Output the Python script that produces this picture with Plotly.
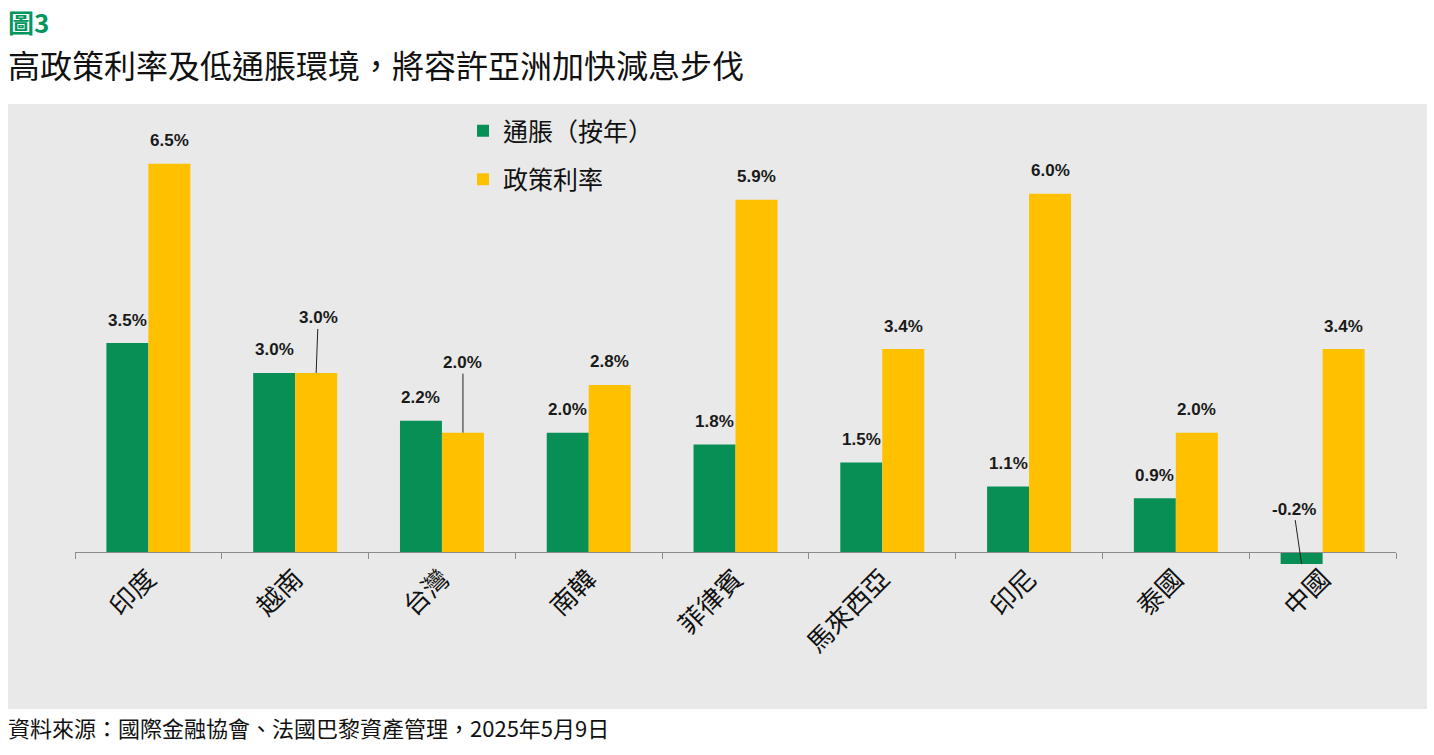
import plotly.graph_objects as go

categories = ["印度", "越南", "台灣", "南韓", "菲律賓", "馬來西亞", "印尼", "泰國", "中國"]
inflation = [3.5, 3.0, 2.2, 2.0, 1.8, 1.5, 1.1, 0.9, -0.2]
policy_rate = [6.5, 3.0, 2.0, 2.8, 5.9, 3.4, 6.0, 2.0, 3.4]
series_names = ["通脹（按年）", "政策利率"]

GREEN = "#078f56"
YELLOW = "#ffc000"
BG = "#e9e9e9"
CJK = "Noto Sans CJK TC"
LAT = "Liberation Sans, Arial"

W, H = 1434, 755
ML, MR, MT, MB = 75, 38, 134, 173
PW, PH = W - ML - MR, H - MT - MB


def px2x(px):
    return (px - ML) / PW


def py2y(py):
    return (H - MB - py) / PH


fig = go.Figure()
fig.add_trace(go.Bar(x=categories, y=inflation, name=series_names[0], marker_color=GREEN,
                     marker_line_width=0, legendgroup="a"))
fig.add_trace(go.Bar(x=categories, y=policy_rate, name=series_names[1], marker_color=YELLOW,
                     marker_line_width=0, legendgroup="b"))

annotations = []
label_font = dict(family=LAT, size=17, color="#1a1a1a")
# leader-line labels: (series index, category index) -> (ax, ay)
special = {(1, 1): (2, -55), (1, 2): (0, -70), (0, 8): (-8, -55)}
for si, vals in enumerate([inflation, policy_rate]):
    shift = -21 if si == 0 else 21
    for ci, v in enumerate(vals):
        txt = f"<b>{v:.1f}%</b>"
        if (si, ci) in special:
            ax, ay = special[(si, ci)]
            annotations.append(dict(x=categories[ci], y=v, xref="x", yref="y", xshift=shift,
                                    text=txt, showarrow=True, arrowhead=0, arrowwidth=1,
                                    arrowcolor="#222", ax=ax, ay=ay, font=label_font))
        else:
            annotations.append(dict(x=categories[ci], y=max(v, 0), xref="x", yref="y", xshift=shift,
                                    yshift=23, text=txt, showarrow=False, font=label_font))

annotations.append(dict(x=px2x(6), y=py2y(1), xref="paper", yref="paper", xanchor="left",
                        yanchor="top", text="<b>圖3</b>", showarrow=False,
                        font=dict(family=CJK, size=26, color="#00965e")))
annotations.append(dict(x=px2x(6), y=py2y(64), xref="paper", yref="paper", xanchor="left",
                        yanchor="middle", text="高政策利率及低通脹環境，將容許亞洲加快減息步伐", showarrow=False,
                        font=dict(family=CJK, size=32, color="#111")))
annotations.append(dict(x=px2x(6), y=py2y(727), xref="paper", yref="paper", xanchor="left",
                        yanchor="middle", text="資料來源：國際金融協會、法國巴黎資產管理，2025年5月9日", showarrow=False,
                        font=dict(family=CJK, size=22, color="#111")))

shapes = [dict(type="rect", xref="paper", yref="paper", x0=px2x(8), x1=px2x(1427),
               y0=py2y(709), y1=py2y(104), fillcolor=BG, line_width=0, layer="below")]

ymin, ymax = -0.5, 7.0
fig.update_layout(
    width=W, height=H,
    margin=dict(l=ML, r=MR, t=MT, b=MB),
    paper_bgcolor="white", plot_bgcolor="rgba(0,0,0,0)",
    barmode="group", bargap=0.428, bargroupgap=0,
    annotations=annotations, shapes=shapes,
    showlegend=True,
    legend=dict(x=px2x(463), y=py2y(108), xanchor="left", yanchor="top",
                bgcolor="rgba(0,0,0,0)", font=dict(family=CJK, size=25, color="#111"),
                traceorder="grouped", tracegroupgap=13, itemwidth=30),
    xaxis=dict(type="category", anchor="free", position=(0 - ymin) / (ymax - ymin),
               showline=True, linecolor="#8c8c8c", linewidth=1,
               ticks="outside", tickson="boundaries", ticklen=6, tickcolor="#8c8c8c",
               tickangle=-45, tickfont=dict(family=CJK, size=26, color="#111"),
               showgrid=False, zeroline=False),
    yaxis=dict(range=[ymin, ymax], visible=False, showgrid=False, zeroline=False),
)

fig.write_html("out.html")
